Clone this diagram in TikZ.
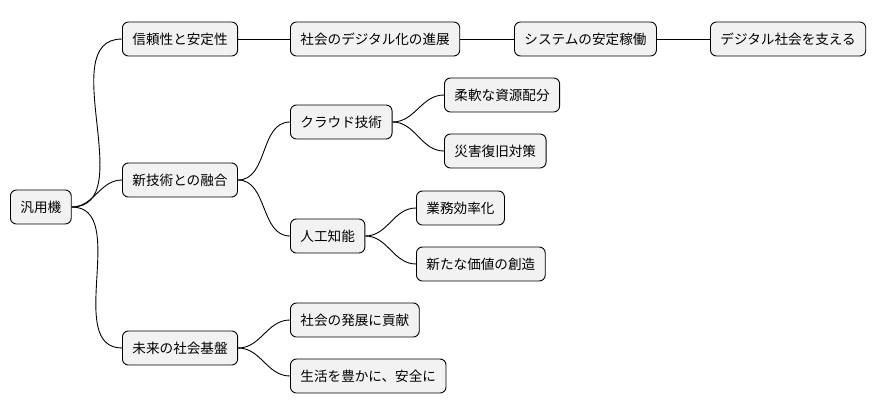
\documentclass[tikz,border=0pt]{standalone}
\usepackage{fontspec}
\setmainfont{Noto Sans CJK JP}
\begin{document}
\begin{tikzpicture}[x=1pt,y=-1pt]
    \tikzset{topic/.style={draw=black, fill=black!5, rounded corners=6pt, line width=0.9pt,
        minimum height=34pt, inner xsep=10pt, anchor=west, font=\fontsize{13.6}{16}\selectfont},
      link/.style={draw=black, line width=0.9pt}}
    \useasboundingbox (0,0) rectangle (880,415);
    \node [topic] (root) at (10,207) {汎用機};
    \node [topic] (rel) at (122,39) {信頼性と安定性};
    \node [topic] (dig) at (290,39) {社会のデジタル化の進展};
    \node [topic] (sys) at (514,39) {システムの安定稼働};
    \node [topic] (sup) at (710,39) {デジタル社会を支える};
    \node [topic] (tech) at (122,180) {新技術との融合};
    \node [topic] (cloud) at (290,122) {クラウド技術};
    \node [topic] (flex) at (444,95) {柔軟な資源配分};
    \node [topic] (dis) at (444,151) {災害復旧対策};
    \node [topic] (ai) at (290,236) {人工知能};
    \node [topic] (eff) at (416,208) {業務効率化};
    \node [topic] (val) at (416,264) {新たな価値の創造};
    \node [topic] (fut) at (122,348) {未来の社会基盤};
    \node [topic] (dev) at (290,320) {社会の発展に貢献};
    \node [topic] (life) at (290,376) {生活を豊かに、安全に};
    \draw [link] (rel) -- (dig);
    \draw [link] (dig) -- (sys);
    \draw [link] (sys) -- (sup);
    \foreach \p/\c in {root/rel, root/tech, root/fut, tech/cloud, tech/ai,
        cloud/flex, cloud/dis, ai/eff, ai/val, fut/dev, fut/life}
      \draw [link] (\p.east) to [out=0, in=180] (\c.west);
\end{tikzpicture}
\end{document}
